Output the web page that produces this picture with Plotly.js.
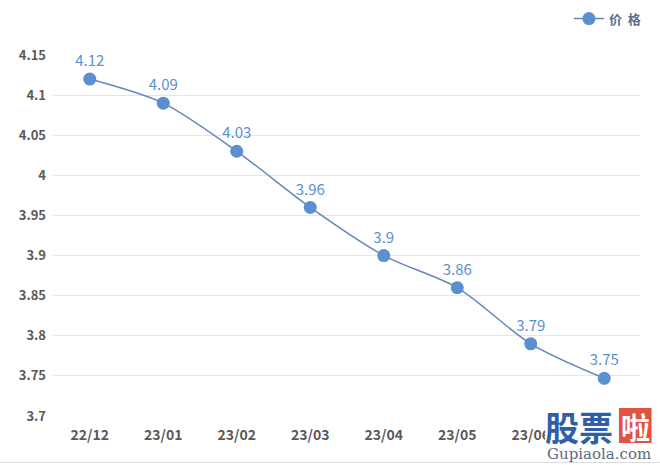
<!DOCTYPE html>
<html><head><meta charset="utf-8">
<script src="https://cdn.plot.ly/plotly-3.0.1.min.js"></script>
<style>html,body{margin:0;padding:0;background:#fff}#c{width:660px;height:465px}</style>
</head><body><div id="c"></div>
<script>
const categories = ["22/12","23/01","23/02","23/03","23/04","23/05","23/06","23/07"];
const prices = [4.12, 4.09, 4.03, 3.96, 3.90, 3.86, 3.79, 3.747];
const priceLabels = ["4.12","4.09","4.03","3.96","3.9","3.86","3.79","3.75"];
const yTickVals = [3.7,3.75,3.8,3.85,3.9,3.95,4,4.05,4.1,4.15];
const yTickText = ["3.7","3.75","3.8","3.85","3.9","3.95","4","4.05","4.1","4.15"];

const blue = "#5b8fd0";
const trace = {
  x: categories, y: prices, type: "scatter", mode: "lines+markers+text",
  name: "价\u00a0\u00a0格",
  line: {color: "#6286bd", width: 1.5, shape: "spline", smoothing: 0.8},
  marker: {color: blue, size: 13},
  text: priceLabels, textposition: "top center",
  textfont: {color: blue, size: 15, family: "Noto Sans CJK SC, sans-serif"},
  cliponaxis: false
};
const layout = {
  width: 660, height: 465,
  margin: {l: 53, r: 19, t: 55, b: 49, autoexpand: false},
  paper_bgcolor: "#fff", plot_bgcolor: "#fff",
  font: {family: "Noto Sans CJK SC, sans-serif", color: "#595959"},
  showlegend: true,
  legend: {xref: "container", yref: "container", x: 0.862, xanchor: "left", y: 0.96, yanchor: "middle",
    orientation: "h",
    font: {size: 13, color: "#5a6f8f", family: "Noto Sans CJK SC, sans-serif", weight: "bold"},
    bgcolor: "rgba(0,0,0,0)"},
  xaxis: {type: "category", range: [-0.5, 7.5], showgrid: false, zeroline: false,
    showline: false, ticks: "", ticklabelstandoff: 9,
    tickfont: {size: 14, color: "#595959", weight: "bold"},
    fixedrange: true},
  yaxis: {range: [3.7, 4.15], tickvals: yTickVals, ticktext: yTickText,
    showgrid: true, gridcolor: "#e6e6e6", gridwidth: 1, zeroline: false, showline: false,
    ticks: "", ticklen: 0, ticklabelstandoff: 6,
    tickfont: {size: 13, color: "#595959", weight: "bold"},
    fixedrange: true},
  shapes: [
    {type: "line", xref: "paper", yref: "paper", x0: -0.1, x1: 1.05, y0: -0.129, y1: -0.129,
     line: {color: "#d9d9d9", width: 1}},
    {type: "rect", xref: "paper", yref: "paper", layer: "above", x0: 0.837, x1: 1.04, y0: -0.127, y1: -0.02,
     fillcolor: "#ffffff", line: {width: 0}},
    {type: "rect", xref: "paper", yref: "paper", layer: "above", x0: 0.9625, x1: 1.018, y0: -0.075, y1: 0.022,
     fillcolor: "#e0533f", line: {width: 0}}
  ],
  annotations: [
    {xref: "paper", yref: "paper", x: 0.834, y: -0.028, xanchor: "left", yanchor: "middle",
     text: "股票", showarrow: false,
     font: {size: 34, color: "#2f5fa8", family: "Noto Sans CJK SC, sans-serif", weight: "bold"}},
    {xref: "paper", yref: "paper", x: 0.9903, y: -0.028, xanchor: "center", yanchor: "middle",
     text: "啦", showarrow: false,
     font: {size: 29, color: "#ffffff", family: "Noto Sans CJK SC, sans-serif", weight: "bold"}},
    {xref: "paper", yref: "paper", x: 0.928, y: -0.105, xanchor: "center", yanchor: "middle",
     text: "Gupiaola.com", showarrow: false,
     font: {size: 15, color: "#5a6a80", family: "DejaVu Serif, serif"}}
  ]
};
Plotly.newPlot("c", [trace], layout, {displayModeBar: false, staticPlot: true});
</script></body></html>
